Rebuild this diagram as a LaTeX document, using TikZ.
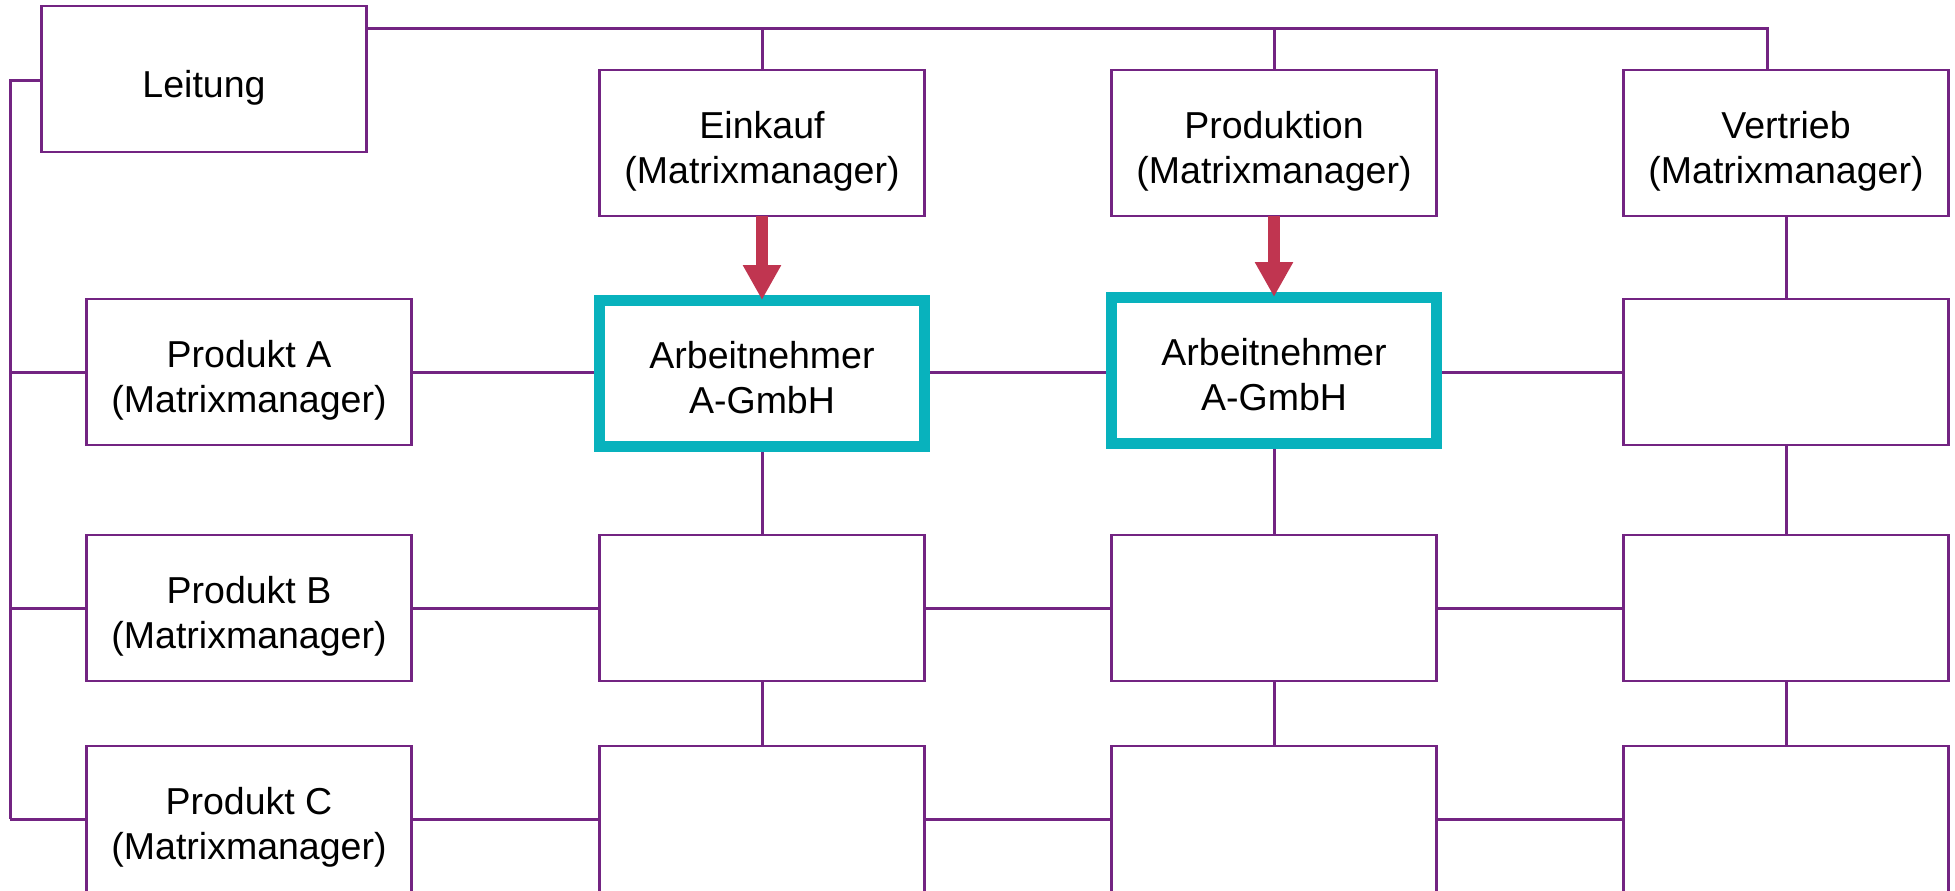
\documentclass[tikz,border=0pt]{standalone}
\usepackage{fontspec}
\setmainfont{Liberation Sans}
\usetikzlibrary{arrows.meta,backgrounds}
\definecolor{lila}{RGB}{115,36,130}
\definecolor{tuerkis}{RGB}{8,178,189}
\definecolor{rot}{RGB}{192,53,80}
\newcommand{\zeile}[1]{\raisebox{0pt}[18pt][0pt]{#1}}
\begin{document}
\begin{tikzpicture}[x=0.5pt,y=-0.5pt,
  box/.style={draw=lila, line width=1.3pt, rectangle, minimum width=162.5pt,
    minimum height=73pt, inner sep=0pt, outer sep=0pt, align=center,
    font=\fontsize{18.75pt}{22.5pt}\selectfont, fill=white},
  hbox/.style={box, draw=tuerkis, line width=5.5pt},
  conn/.style={draw=lila, line width=1.5pt},
  pfeil/.style={draw=rot, line width=6pt, -{Triangle[width=18pt,length=17.5pt]}}]
\useasboundingbox (0,0) rectangle (1955,890);

% top row
\node[box] (L) at (204,79) {\zeile{Leitung}};
\node[box] (E) at (762,143) {\zeile{Einkauf}\\\zeile{(Matrixmanager)}};
\node[box] (P) at (1274,143) {\zeile{Produktion}\\\zeile{(Matrixmanager)}};
\node[box] (V) at (1786,143) {\zeile{Vertrieb}\\\zeile{(Matrixmanager)}};

% product rows
\node[box] (PA) at (249,372) {\zeile{Produkt A}\\\zeile{(Matrixmanager)}};
\node[box] (PB) at (249,608) {\zeile{Produkt B}\\\zeile{(Matrixmanager)}};
\node[box] (PC) at (249,819) {\zeile{Produkt C}\\\zeile{(Matrixmanager)}};

\node[hbox] (A2) at (762,373) {\zeile{Arbeitnehmer}\\\zeile{A-GmbH}};
\node[hbox] (A3) at (1274,370) {\zeile{Arbeitnehmer}\\\zeile{A-GmbH}};
\node[box] (A4) at (1786,372) {};

\node[box] (B2) at (762,608) {};
\node[box] (B3) at (1274,608) {};
\node[box] (B4) at (1786,608) {};

\node[box] (C2) at (762,819) {};
\node[box] (C3) at (1274,819) {};
\node[box] (C4) at (1786,819) {};

\coordinate (vt) at (1767,28);
\coordinate (sp) at (10,80);

\begin{scope}[on background layer]
  % top bus
  \draw[conn] (L.east|-vt) -- (vt) -- (vt|-V.north);
  \draw[conn] (E.north) -- (E.north|-vt);
  \draw[conn] (P.north) -- (P.north|-vt);
  % left spine
  \draw[conn] (L.west|-sp) -- (sp) -- (sp|-PC.west);
  \draw[conn] (sp|-PA.west) -- (PA.west);
  \draw[conn] (sp|-PB.west) -- (PB.west);
  \draw[conn] (sp|-PC.west) -- (PC.west);
  % rows
  \draw[conn] (PA.east) -- (PA.east-|A2.west);
  \draw[conn] (A2.east|-PA.east) -- (A3.west|-PA.east);
  \draw[conn] (A3.east|-PA.east) -- (A4.west);
  \draw[conn] (PB.east) -- (B2.west);
  \draw[conn] (B2.east) -- (B3.west);
  \draw[conn] (B3.east) -- (B4.west);
  \draw[conn] (PC.east) -- (C2.west);
  \draw[conn] (C2.east) -- (C3.west);
  \draw[conn] (C3.east) -- (C4.west);
  % columns
  \draw[conn] (A2.south) -- (B2.north);
  \draw[conn] (B2.south) -- (C2.north);
  \draw[conn] (A3.south) -- (B3.north);
  \draw[conn] (B3.south) -- (C3.north);
  \draw[conn] (V.south) -- (A4.north);
  \draw[conn] (A4.south) -- (B4.north);
  \draw[conn] (B4.south) -- (C4.north);
\end{scope}

% arrows
\draw[pfeil] (E.south) -- (A2.north);
\draw[pfeil] (P.south -| A3.north) -- (A3.north);
\end{tikzpicture}
\end{document}
